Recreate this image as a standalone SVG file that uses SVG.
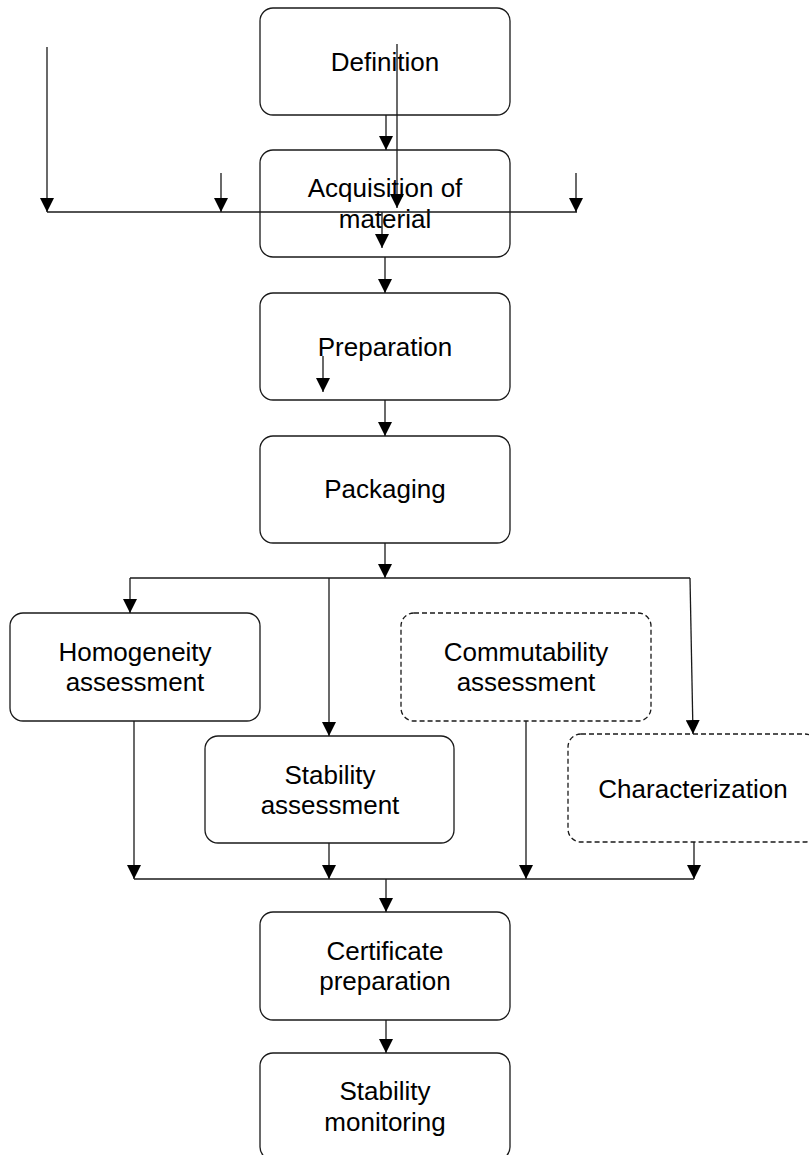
<svg xmlns="http://www.w3.org/2000/svg" width="809" height="1155" viewBox="0 0 809 1155">
  <style>
    .box { fill: #fff; stroke: #1a1a1a; stroke-width: 1.3; }
    .dashed { stroke-dasharray: 5 3; }
    .lbl { font-family: "Liberation Sans", Arial, sans-serif; font-size: 26px; fill: #000; text-anchor: middle; }
    .ln { fill: none; stroke: #1a1a1a; stroke-width: 1.3; }
    .arr { marker-end: url(#head); }
  </style>
  <defs>
    <marker id="head" markerUnits="userSpaceOnUse" markerWidth="14" markerHeight="14" refX="14" refY="7" orient="auto">
      <path d="M0,0 L14,7 L0,14 z" fill="#000"/>
    </marker>
  </defs>

  <rect width="809" height="1155" fill="#fff"/>

  <!-- process boxes -->
  <g id="definition">
    <rect class="box" x="260" y="8" width="250" height="107" rx="13"/>
    <text class="lbl" x="385" y="71">Definition</text>
  </g>
  <g id="acquisition">
    <rect class="box" x="260" y="150" width="250" height="107" rx="13"/>
    <text class="lbl" x="385" y="197">Acquisition of</text>
    <text class="lbl" x="385" y="228">material</text>
  </g>
  <g id="preparation">
    <rect class="box" x="260" y="293" width="250" height="107" rx="13"/>
    <text class="lbl" x="385" y="356">Preparation</text>
  </g>
  <g id="packaging">
    <rect class="box" x="260" y="436" width="250" height="107" rx="13"/>
    <text class="lbl" x="385" y="498">Packaging</text>
  </g>
  <g id="homogeneity">
    <rect class="box" x="10" y="613" width="250" height="108" rx="13"/>
    <text class="lbl" x="135" y="661">Homogeneity</text>
    <text class="lbl" x="135" y="691">assessment</text>
  </g>
  <g id="commutability">
    <rect class="box dashed" x="401" y="613" width="250" height="108" rx="13"/>
    <text class="lbl" x="526" y="661">Commutability</text>
    <text class="lbl" x="526" y="691">assessment</text>
  </g>
  <g id="stability">
    <rect class="box" x="205" y="736" width="249" height="107" rx="13"/>
    <text class="lbl" x="330" y="784">Stability</text>
    <text class="lbl" x="330" y="814">assessment</text>
  </g>
  <g id="characterization">
    <rect class="box dashed" x="568" y="734" width="250" height="108" rx="13"/>
    <text class="lbl" x="693" y="798">Characterization</text>
  </g>
  <g id="certificate">
    <rect class="box" x="260" y="912" width="250" height="108" rx="13"/>
    <text class="lbl" x="385" y="960">Certificate</text>
    <text class="lbl" x="385" y="990">preparation</text>
  </g>
  <g id="monitoring">
    <rect class="box" x="260" y="1053" width="250" height="107" rx="13"/>
    <text class="lbl" x="385" y="1100">Stability</text>
    <text class="lbl" x="385" y="1131">monitoring</text>
  </g>

  <!-- connectors -->
  <g id="connectors">
    <line class="ln arr" x1="386" y1="115" x2="386" y2="150"/>
    <line class="ln arr" x1="397" y1="44" x2="397" y2="208"/>
    <line class="ln" x1="47" y1="212" x2="577" y2="212"/>
    <line class="ln arr" x1="47" y1="47" x2="47" y2="212"/>
    <line class="ln arr" x1="221" y1="173" x2="221" y2="212"/>
    <line class="ln arr" x1="576" y1="173" x2="576" y2="212"/>
    <line class="ln arr" x1="382" y1="212" x2="382" y2="248"/>
    <line class="ln arr" x1="385" y1="257" x2="385" y2="293"/>
    <line class="ln arr" x1="323" y1="356" x2="323" y2="392"/>
    <line class="ln arr" x1="385" y1="400" x2="385" y2="436"/>
    <line class="ln arr" x1="385" y1="543" x2="385" y2="578"/>

    <line class="ln" x1="130" y1="578" x2="690" y2="578"/>
    <line class="ln arr" x1="130" y1="578" x2="130" y2="613"/>
    <line class="ln arr" x1="329" y1="578" x2="329" y2="736"/>
    <line class="ln arr" x1="690" y1="578" x2="693" y2="734"/>

    <line class="ln arr" x1="134" y1="721" x2="134" y2="879"/>
    <line class="ln arr" x1="329" y1="843" x2="329" y2="879"/>
    <line class="ln arr" x1="526" y1="721" x2="526" y2="879"/>
    <line class="ln arr" x1="694" y1="842" x2="694" y2="879"/>
    <line class="ln" x1="134" y1="879" x2="694" y2="879"/>

    <line class="ln arr" x1="386" y1="879" x2="386" y2="912"/>
    <line class="ln arr" x1="386" y1="1020" x2="386" y2="1053"/>
  </g>
</svg>
